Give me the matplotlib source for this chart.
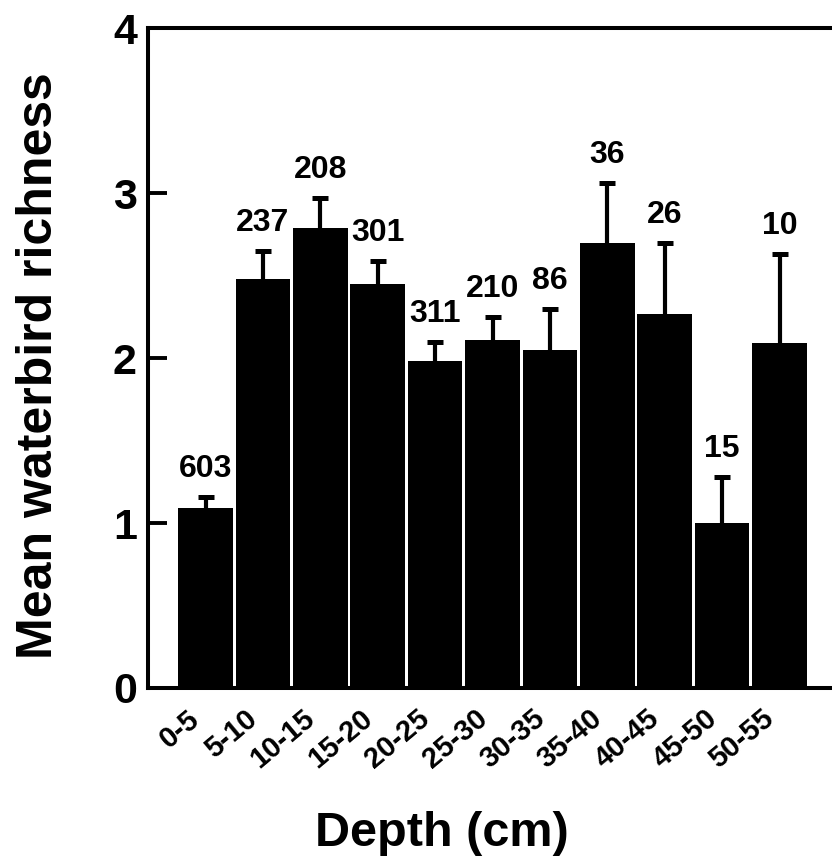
import matplotlib

matplotlib.use("Agg")
import matplotlib.pyplot as plt  # noqa: E402
import matplotlib.transforms as mtransforms  # noqa: E402

plt.rcParams["font.family"] = ["Liberation Sans", "DejaVu Sans"]
plt.rcParams["font.weight"] = "bold"

depths = ["0-5", "5-10", "10-15", "15-20", "20-25", "25-30",
          "30-35", "35-40", "40-45", "45-50", "50-55"]
richness = [1.09, 2.48, 2.79, 2.45, 1.98, 2.11, 2.05, 2.70, 2.27, 1.00, 2.09]
se = [0.07, 0.17, 0.18, 0.14, 0.12, 0.14, 0.25, 0.36, 0.43, 0.28, 0.54]
n_obs = [603, 237, 208, 301, 311, 210, 86, 36, 26, 15, 10]

fig = plt.figure(figsize=(8.32, 8.61), dpi=100)
# axes runs past the right edge of the figure, as in the original
ax = fig.add_axes([0.178, 0.201, 0.828, 0.766])

x = list(range(len(depths)))
tops = [v + e for v, e in zip(richness, se)]

ax.bar(x, richness, width=0.95, color="black", zorder=3)
# upper error bars only, no cap at the bar top
ax.errorbar(x, richness, yerr=[[0] * len(se), se], fmt="none",
            ecolor="black", elinewidth=3, capsize=0, zorder=2)
ax.plot(x, tops, ls="none", marker="_", ms=12, mew=3.6, color="black",
        zorder=2)

for xi, t, n in zip(x, tops, n_obs):
    ax.annotate(str(n), (xi, t), xytext=(0, 14.5), textcoords="offset points",
                ha="center", va="baseline", fontsize=23, fontweight="bold")

ax.set_xlim(-1, 11)
ax.set_ylim(0, 4)
ax.set_yticks([0, 1, 2, 3, 4])
ax.set_xticks(x)
ax.set_xticklabels(depths, rotation=40, ha="right", rotation_mode="anchor",
                   fontsize=21, fontweight="bold")
ax.tick_params(axis="x", length=0, pad=12)
ax.tick_params(axis="y", direction="in", length=14, width=2.8, pad=8,
               labelsize=31)
for s in ax.spines.values():
    s.set_linewidth(2.9)

# nudge the rotated depth labels left, after tick_params has set pads
shift = mtransforms.ScaledTranslation(-13 / 72, 0, fig.dpi_scale_trans)
for tick in ax.xaxis.get_major_ticks():
    tick.label1.set_transform(tick.label1.get_transform() + shift)

ax.set_xlabel("Depth (cm)", fontsize=35, fontweight="bold")
ax.xaxis.set_label_coords(0.427, -0.186)
ax.set_ylabel("Mean waterbird richness", fontsize=36, fontweight="bold")
ax.yaxis.set_label_coords(-0.125, 0.489)

fig.savefig("out.png", dpi=100)
